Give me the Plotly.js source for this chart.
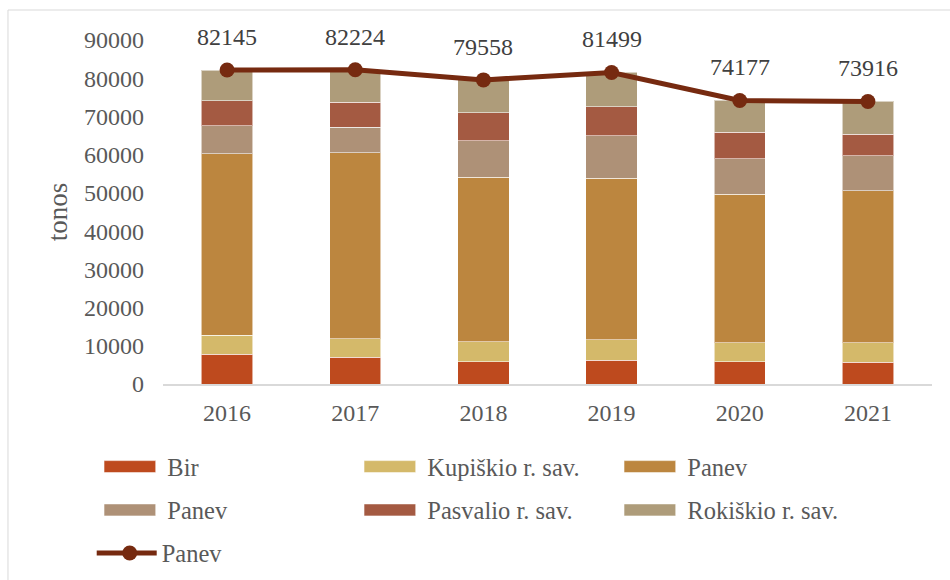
<!DOCTYPE html>
<html>
<head>
<meta charset="utf-8">
<script src="https://cdn.plot.ly/plotly-3.0.1.min.js"></script>
<style>
  html, body { margin: 0; padding: 0; background: #ffffff; }
  #chart { width: 950px; height: 580px; }
</style>
</head>
<body>
<div id="chart"></div>
<script>
// ---- data ----
const years    = ['2016', '2017', '2018', '2019', '2020', '2021'];
const bir      = [7770, 6980, 5850, 6190, 5850, 5670];
const kupiskio = [4990, 4910, 5250, 5440, 4990, 5170];
const panev1   = [47500, 48640, 42970, 42170, 38850, 39710];
const panev2   = [7270, 6660, 9530, 11110, 9260, 9110];
const pasvalio = [6570, 6460, 7340, 7690, 6930, 5690];
const rokiskio = [8045, 8574, 8618, 8899, 8297, 8566];
const totals   = [82145, 82224, 79558, 81499, 74177, 73916];

const seriesNames = ['Bir', 'Kupiškio r. sav.', 'Panev', 'Panev', 'Pasvalio r. sav.', 'Rokiškio r. sav.'];
const lineName = 'Panev';
const yTicks = [0, 10000, 20000, 30000, 40000, 50000, 60000, 70000, 80000, 90000];

// ---- styling ----
const colors = ['#BE4A1E', '#D4B96A', '#BC863F', '#AE9177', '#A45A42', '#AE9C7A'];
const legendOf = ['legend', 'legend', 'legend', 'legend2', 'legend2', 'legend2'];
const barValues = [bir, kupiskio, panev1, panev2, pasvalio, rokiskio];

const data = barValues.map((vals, i) => ({
  type: 'bar',
  x: years,
  y: vals,
  name: seriesNames[i],
  legend: legendOf[i],
  marker: { color: colors[i], line: { color: 'rgba(255,255,255,0.55)', width: 1 } },
  hoverinfo: 'skip'
}));

data.push({
  type: 'scatter',
  mode: 'lines+markers',
  x: years,
  y: totals,
  name: lineName,
  legend: 'legend3',
  line: { color: '#762A10', width: 5 },
  marker: { color: '#762A10', size: 15 },
  hoverinfo: 'skip'
});

// value labels above the line points (x given as category index, since the
// category names look numeric)
const annotations = totals.map((v, i) => ({
  x: years.indexOf(years[i]), y: v, xref: 'x', yref: 'y',
  text: String(v), showarrow: false,
  yanchor: 'bottom', yshift: 18,
  font: { family: 'Liberation Serif', size: 24, color: '#404040' }
}));

const legendBase = {
  orientation: 'h', xanchor: 'left', yanchor: 'middle',
  entrywidth: 185, entrywidthmode: 'pixels', itemwidth: 60,
  bgcolor: 'rgba(0,0,0,0)', borderwidth: 0, traceorder: 'normal',
  font: { family: 'Liberation Serif', size: 24.5, color: '#595959' }
};

const layout = {
  width: 950, height: 580,
  margin: { l: 163, r: 18, t: 40, b: 196, autoexpand: false },
  paper_bgcolor: '#ffffff', plot_bgcolor: '#ffffff',
  font: { family: 'Liberation Serif', size: 24, color: '#595959' },
  barmode: 'stack',
  bargap: 0.6,
  showlegend: true,
  xaxis: {
    type: 'category',
    range: [-0.5, years.length - 0.5],
    showline: true, linecolor: '#d9d9d9', linewidth: 1.5,
    ticks: '', showgrid: false, zeroline: false,
    ticklabelstandoff: 7,
    tickfont: { size: 24, color: '#595959' }
  },
  yaxis: {
    range: [0, 90000],
    tickmode: 'array', tickvals: yTicks, ticktext: yTicks.map(String),
    showline: false, showgrid: false, zeroline: false, ticks: '',
    ticklabelstandoff: 18,
    tickfont: { size: 24, color: '#595959' },
    title: { text: 'tonos', font: { size: 27, color: '#595959' }, standoff: 8 }
  },
  legend:  Object.assign({}, legendBase, { x: -0.0854, y: -0.2404 }),
  legend2: Object.assign({}, legendBase, { x: -0.0854, y: -0.3663 }),
  legend3: Object.assign({}, legendBase, { x: -0.0927, y: -0.4913 }),
  annotations: annotations,
  shapes: [{
    type: 'rect', xref: 'paper', yref: 'paper',
    x0: -0.2016, x1: 1.03, y0: -0.6, y1: 1.0872,
    line: { color: '#d9d9d9', width: 1 }, fillcolor: 'rgba(0,0,0,0)', layer: 'below'
  }]
};

function restyleLegendSymbols(gd) {
  // widen the bar swatches (default is a small square) to match the reference
  gd.querySelectorAll('g.legendpoints path').forEach(function (p) {
    var d = (p.getAttribute('d') || '').replace(/\s/g, '');
    if (d === 'M6,6H-6V-6H6Z' || p.classList.contains('legendbar')) {
      p.setAttribute('d', 'M6.7,-6H58.4V6H6.7Z');
      p.setAttribute('transform', 'translate(0,0)');
    }
  });
  gd.querySelectorAll('g.legendpoints path.js-line').forEach(function (p) {
    p.setAttribute('d', 'M10,0h56');
  });
  gd.querySelectorAll('g.legendpoints path.scatterpts').forEach(function (p) {
    p.setAttribute('transform', 'translate(38,0)');
  });
}

Plotly.newPlot('chart', data, layout, { staticPlot: true, displayModeBar: false }).then(function (gd) {
  restyleLegendSymbols(gd);
  setTimeout(function () { restyleLegendSymbols(gd); }, 50);
});
</script>
</body>
</html>
